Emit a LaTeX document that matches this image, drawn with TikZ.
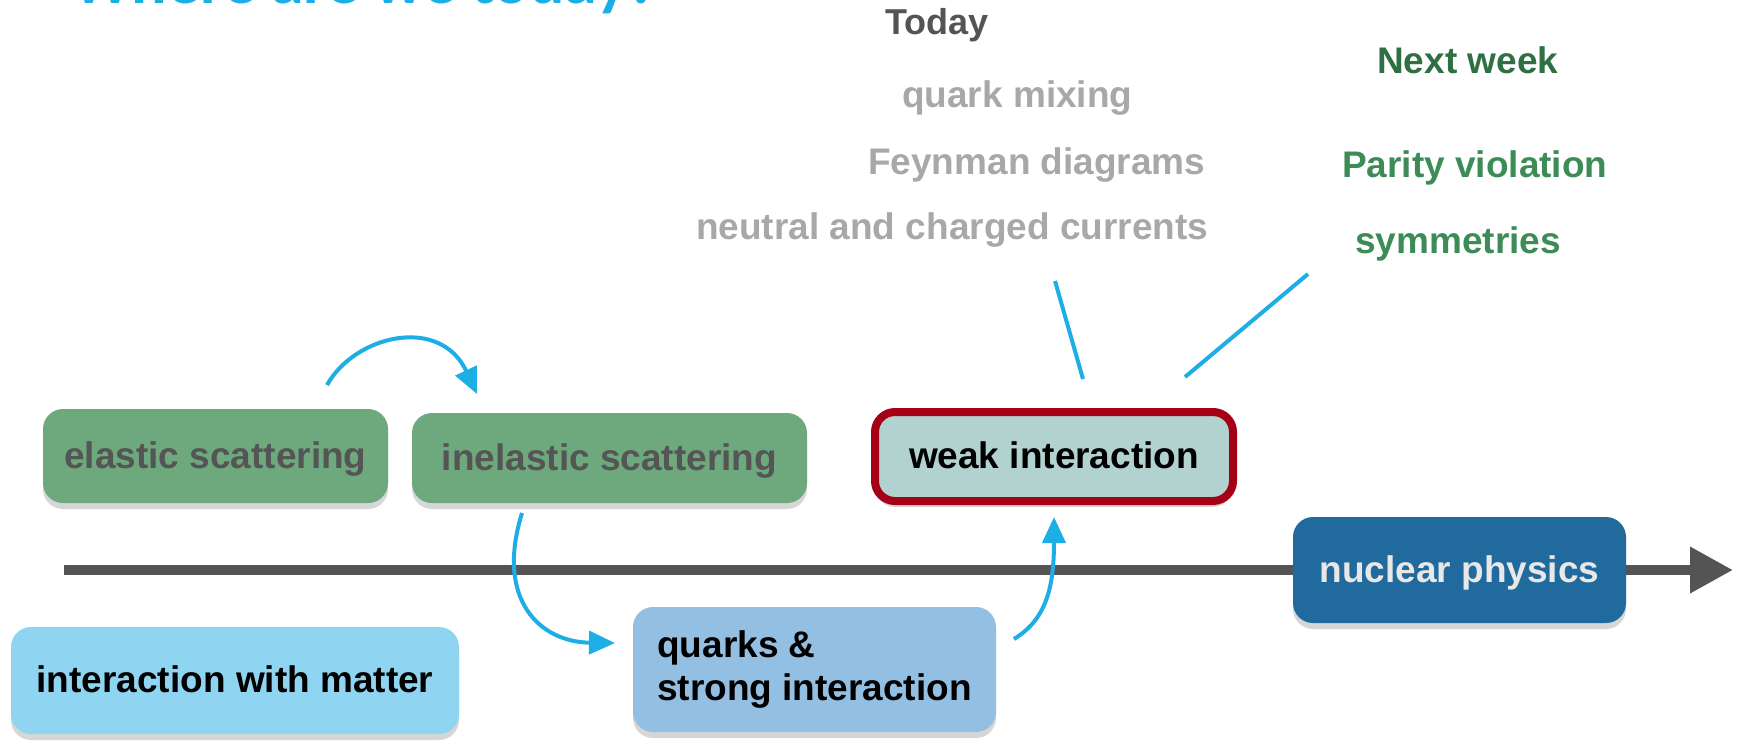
\documentclass[tikz,border=0pt]{standalone}
\usepackage{fontspec}
\setmainfont{Liberation Sans}
\newfontfamily\titlefam{Carlito}
\usetikzlibrary{arrows.meta,shadows}
\definecolor{titleblue}{HTML}{1EAEE6}
\definecolor{arrowblue}{HTML}{1EAEE6}
\definecolor{axisgray}{HTML}{545454}
\definecolor{darktext}{HTML}{555555}
\definecolor{lighttext}{HTML}{A8A8A8}
\definecolor{greenbox}{HTML}{6EA87D}
\definecolor{matterfill}{HTML}{8FD4F0}
\definecolor{quarkfill}{HTML}{93BFE3}
\definecolor{weakfill}{HTML}{B2D2D0}
\definecolor{weakred}{HTML}{A50016}
\definecolor{nuclearfill}{HTML}{206A9E}
\definecolor{nucleartext}{HTML}{E8E8E8}
\definecolor{nextgreen}{HTML}{2E7042}
\definecolor{topicgreen}{HTML}{3D8B57}
\newcommand\boxfont{\fontsize{37}{43}\selectfont\bfseries}
\newcommand\todayfont{\fontsize{36}{43}\selectfont\bfseries}
\newcommand\headfont{\fontsize{66}{76}\selectfont\bfseries\titlefam}
\tikzset{
  rbox/.style={rounded corners=20pt, inner sep=0pt, text height=27pt, text depth=3pt,
    align=center, font=\boxfont,
    drop shadow={shadow xshift=0pt, shadow yshift=-6pt, opacity=0.16, fill=black}},
  link/.style={draw=arrowblue, line width=4pt},
  flow/.style={link, -{Triangle[length=26pt,width=23pt]}},
  lbl/.style={anchor=base west, inner sep=0pt, font=\boxfont},
}
\begin{document}
\begin{tikzpicture}[x=1pt,y=-1pt]
\path[use as bounding box, clip] (0,0) rectangle (1739,740);
\fill[white] (0,0) rectangle (1739,740);

% title
\node (title) [anchor=base west, inner sep=0pt, text=titleblue, font=\headfont] at (72,3) {Where are we today?};

% time axis
\coordinate (axstart) at (64,570);
\coordinate (axend) at (1733,570);
\draw[axisgray, line width=10pt, -{Triangle[length=43pt,width=44pt]}] (axstart) -- (axend);

% boxes
\node (elastic) [rbox, fill=greenbox, text=darktext, minimum width=345pt, minimum height=94pt] at (215.5,456) {elastic scattering};
\node (inelastic) [rbox, fill=greenbox, text=darktext, minimum width=395pt, minimum height=90pt] at (609.5,458) {inelastic scattering};
\node (matter) [rbox, fill=matterfill, text=black, minimum width=448pt, minimum height=107pt] at (235,680.5) {interaction with matter};
\node (quarks) [rbox, text height=, text depth=, align=left, fill=quarkfill, text=black, minimum width=363pt, minimum height=125pt] at (814.5,669.5) {quarks \&\\strong interaction};
\node (weak) [rbox, fill=weakfill, draw=weakred, line width=8pt, text=black, minimum width=358pt, minimum height=89pt] at (1054,456.5) {weak interaction};
\node (nuclear) [rbox, fill=nuclearfill, text=nucleartext, minimum width=333pt, minimum height=106pt] at (1459.5,570) {nuclear physics};

% top labels
\node (today) [anchor=base, inner sep=0pt, font=\todayfont, text=axisgray] at (937,34) {Today};
\node (mixing) [lbl, text=lighttext] at (902,107) {quark mixing};
\node (feynman) [lbl, text=lighttext] at (868,174) {Feynman diagrams};
\node (currents) [lbl, text=lighttext] at (696,239) {neutral and charged currents};
\node (nextweek) [lbl, text=nextgreen] at (1377,73) {Next week};
\node (parity) [lbl, text=topicgreen] at (1342,177) {Parity violation};
\node (symm) [lbl, text=topicgreen] at (1355,253) {symmetries};

% flow arrows
\coordinate (a1s) at (327,385);
\coordinate (a1e) at (477,394);
\draw[flow] (a1s) .. controls (355,335) and (440,315) .. (a1e);
\coordinate (a2s) at (522,513);
\coordinate (a2e) at (615,643);
\draw[flow] (a2s) .. controls (495,600) and (540,642) .. (a2e);
\coordinate (a3s) at (1014,639);
\coordinate (a3e) at (1054,517);
\draw[flow] (a3s) .. controls (1045,620) and (1054,590) .. (a3e);

% pointer lines
\coordinate (l1a) at (1083,379);
\coordinate (l1b) at (1055,281);
\draw[link] (l1a) -- (l1b);
\coordinate (l2a) at (1185,377);
\coordinate (l2b) at (1308,274);
\draw[link] (l2a) -- (l2b);
\end{tikzpicture}
\end{document}
